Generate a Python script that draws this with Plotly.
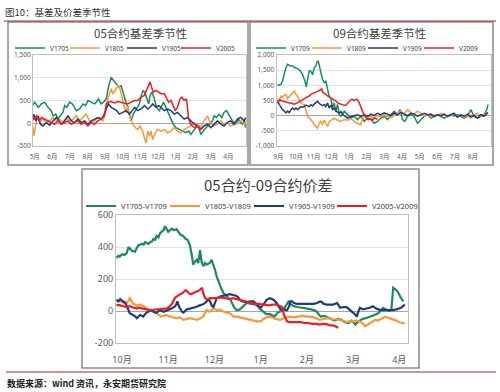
import plotly.graph_objects as go

# ---------------- Panel 1: 05合约基差季节性 (x = months since May 1) ----------------
p1_months = ["5月", "6月", "7月", "8月", "9月", "10月", "11月", "12月", "1月", "2月", "3月", "4月"]
p1_yticks = [-500, 0, 500, 1000, 1500]
p1_ytext = ["-500", "0", "500", "1,000", "1,500"]

p1_v1705_m = [-0.1, 0.0, 0.19, 0.38, 0.57, 0.75, 0.94, 1.04, 1.19, 1.32, 1.45, 1.60, 1.70, 1.83, 1.98, 2.13, 2.26, 2.36,
              2.55, 2.74, 2.89, 3.02, 3.21, 3.40, 3.49, 3.62, 3.77, 3.91, 4.06, 4.21, 4.34, 4.47, 4.62, 4.77, 4.91, 5.00,
              5.15, 5.28, 5.38, 5.47, 5.60, 5.72, 5.85, 5.94, 6.08, 6.17, 6.28, 6.36, 6.47, 6.55, 6.66, 6.79, 6.92, 7.08,
              7.21, 7.32, 7.45, 7.60, 7.74, 7.87, 8.02, 8.21, 8.40, 8.58, 8.74, 8.87, 9.00, 9.15, 9.30, 9.43, 9.57, 9.72,
              9.91, 10.09, 10.19, 10.32, 10.47, 10.62, 10.75, 10.89, 11.04, 11.23, 11.42, 11.57, 11.70, 11.79, 11.89, 11.98]
p1_v1705 = [400, 463, 350, 425, 463, 350, 276, 164, 201, 90, 164, 239, 388, 350, 463, 425, 350, 276,
             313, 425, 388, 500, 463, 425, 463, 537, 425, 463, 537, 836, 1007, 947, 873, 798, 821, 686,
             500, 350, 164, 52, 201, 276, 350, 425, 649, 724, 649, 537, 425, 612, 686, 537, 350, 276,
             388, 463, 350, 201, 90, -22, -97, -134, -172, -209, -172, -246, -172, -97, -60, -246, -172, -97,
             -22, 52, 164, 127, 201, 127, 239, 276, 164, 52, -22, 90, 15, -22, 52, -97]

p1_v1805_m = [-0.12, -0.05, 0.0, 0.09, 0.19, 0.32, 0.47, 0.66, 0.85, 1.04, 1.23, 1.42, 1.60, 1.79, 1.98, 2.17, 2.36,
              2.55, 2.74, 2.92, 3.11, 3.30, 3.49, 3.68, 3.87, 4.02, 4.15, 4.25, 4.34, 4.43, 4.58, 4.72, 4.81, 4.91,
              5.00, 5.09, 5.19, 5.28, 5.38, 5.57, 5.72, 5.85, 5.98, 6.13, 6.23, 6.32, 6.42, 6.51, 6.60, 6.70, 6.85,
              6.98, 7.17, 7.36, 7.55, 7.74, 7.92, 8.11, 8.30, 8.49, 8.68, 8.87, 9.06, 9.25, 9.43, 9.62, 9.81, 10.0,
              10.19, 10.38, 10.57, 10.75, 10.94, 11.13, 11.32, 11.51, 11.70, 11.89, 11.98]
p1_v1805 = [-60, -280, -170, 52, 127, 52, 90, 15, 52, 127, 52, 90, 15, 127, 52, 90, 164,
            52, 127, 201, 52, 15, 90, 127, 52, 239, 537, 686, 761, 649, 724, 836, 798, 649,
            463, 350, 239, 388, 164, -22, -97, -134, -60, -172, -321, -433, -172, -283, -172, -358, -209,
            -134, -172, -134, -209, -172, -97, -172, -209, -134, -97, -60, 15, -22, -97, 52, 164, -22,
            -60, -22, 52, -22, 15, -60, -22, 15, 52, -22, 52]

p1_v1905_m = [-0.1, -0.06, 0.06, 0.19, 0.32, 0.47, 0.66, 0.85, 1.04, 1.23, 1.38, 1.51, 1.70, 1.89, 2.08, 2.26, 2.45,
              2.64, 2.83, 3.02, 3.21, 3.40, 3.58, 3.77, 3.91, 4.06, 4.19, 4.34, 4.53, 4.66, 4.81, 5.00, 5.19, 5.38,
              5.53, 5.68, 5.85, 6.04, 6.23, 6.42, 6.55, 6.70, 6.89, 7.04, 7.17, 7.36, 7.55, 7.74, 7.92, 8.11, 8.30,
              8.49, 8.68, 8.87, 9.06, 9.25, 9.43, 9.62, 9.81, 10.0, 10.19, 10.38, 10.57, 10.75, 10.94, 11.13, 11.32,
              11.51, 11.70, 11.89, 11.98]
p1_v1905 = [127, 201, 52, 164, -22, -60, 15, -45, 52, 127, 52, -22, 52, 164, 52, 15, 90,
            15, 52, -22, 52, 90, 127, 90, 164, 313, 425, 350, 313, 276, 201, 239, 276, 201,
            276, 350, 276, 313, 388, 313, 350, 425, 350, 388, 350, 276, 313, 276, 201, 239, 164,
            90, 127, 52, -22, -60, -134, -60, -22, -97, -22, 52, -22, -60, 15, 52, -22, 90, 127, 52, 127]

p1_v2005_m = [-0.1, -0.06, 0.09, 0.25, 0.38, 0.57, 0.75, 0.94, 1.13, 1.32, 1.51, 1.70, 1.89, 2.08, 2.26, 2.45, 2.64,
              2.83, 3.02, 3.21, 3.40, 3.58, 3.77, 3.96, 4.06, 4.15, 4.34, 4.53, 4.72, 4.91, 5.09, 5.28, 5.47, 5.66,
              5.85, 6.04, 6.23, 6.36, 6.47, 6.55, 6.66, 6.74, 6.89, 7.04, 7.17, 7.36, 7.45, 7.60, 7.74, 7.87, 7.98,
              8.11, 8.25, 8.36, 8.49, 8.62, 8.74, 8.87, 9.06, 9.25, 9.38, 9.53]
p1_v2005 = [127, 90, 164, 52, 127, 90, 52, 15, -22, 52, -22, 15, 52, -22, 15, 52, -22,
            15, -60, 15, -22, 52, 90, 164, 425, 463, 477, 448, 477, 463, 448, 425, 463, 500,
            500, 574, 612, 724, 836, 910, 761, 686, 724, 686, 649, 649, 574, 463, 500, 388, 276,
            350, 537, 574, 500, 537, 90, -22, -97, -60, -134, -97]

# ---------------- Panel 2: 09合约基差季节性 (x = months since Sep 1) ----------------
p2_months = ["9月", "10月", "11月", "12月", "1月", "2月", "3月", "4月", "5月", "6月", "7月", "8月"]
p2_yticks = [-1000, -500, 0, 500, 1000, 1500, 2000]
p2_ytext = ["-1,000", "-500", "0", "500", "1,000", "1,500", "2,000"]

p2_v1709_m = [-0.05, 0.15, 0.24, 0.34, 0.43, 0.53, 0.68, 0.81, 0.94, 1.09, 1.24, 1.37, 1.51, 1.58, 1.66, 1.75, 1.85,
              1.94, 2.03, 2.13, 2.18, 2.26, 2.34, 2.41, 2.50, 2.60, 2.69, 2.79, 2.88, 2.98, 3.07, 3.16, 3.26, 3.35,
              3.45, 3.54, 3.73, 3.92, 4.11, 4.29, 4.48, 4.67, 4.86, 5.05, 5.24, 5.42, 5.61, 5.80, 5.99, 6.18, 6.37,
              6.55, 6.74, 6.89, 7.02, 7.16, 7.31, 7.50, 7.68, 7.87, 8.06, 8.25, 8.44, 8.63, 8.81, 9.00, 9.19, 9.38,
              9.57, 9.76, 9.94, 10.13, 10.32, 10.51, 10.70, 10.89, 11.07, 11.26, 11.45, 11.64, 11.79, 11.86]
p2_v1709 = [1000, 1030, 1140, 1360, 1580, 1690, 1640, 1640, 1580, 1550, 1480, 1360, 1140, 950, 1250, 1480, 1450,
            1350, 1580, 1650, 1750, 1810, 1600, 1420, 1200, 1090, 1130, 865, 645, 560, 255, 420, 145, 370,
            35, -20, 145, 35, -80, -20, -130, -20, -190, -80, -130, -250, -190, -80, -20, -130, 35,
            145, 35, 200, -130, -190, -20, 35, -20, -250, -130, -20, 35, -80, -20, 35, -20, -80,
            -20, 35, -20, 35, -20, -80, -20, 200, -20, -80, -20, 35, 200, 365]

p2_v1809_m = [-0.05, 0.06, 0.15, 0.24, 0.34, 0.43, 0.53, 0.62, 0.72, 0.81, 0.90, 1.0, 1.09, 1.19, 1.28, 1.37, 1.47,
              1.56, 1.66, 1.75, 1.85, 1.94, 2.03, 2.13, 2.22, 2.32, 2.41, 2.50, 2.60, 2.69, 2.79, 2.88, 2.98, 3.07,
              3.16, 3.35, 3.54, 3.73, 3.92, 4.11, 4.29, 4.48, 4.67, 4.76, 4.86, 5.05, 5.24, 5.42, 5.61, 5.80, 5.99,
              6.18, 6.37, 6.55, 6.74, 6.93, 7.12, 7.31, 7.50, 7.68, 7.87, 8.06, 8.25, 8.44, 8.63, 8.81, 9.00, 9.19,
              9.38, 9.57, 9.76, 9.94, 10.13, 10.32, 10.51, 10.70, 10.89, 11.07, 11.26, 11.45, 11.64, 11.79, 11.86]
p2_v1809 = [420, 450, 640, 600, 680, 700, 560, 640, 700, 750, 810, 700, 640, 500, 420, 380, 365,
            150, -20, -80, -130, -200, -300, -350, -410, -250, -190, -300, -150, -250, -355, -200, -150, -120,
            -80, -150, -190, -130, -150, -100, -190, -250, -300, -80, 30, -50, -20, -80, 0, -50, 30,
            -20, -70, 0, 80, 150, 50, 200, 100, 30, 150, 80, -20, 30, -50, 30, 0, 80,
            30, -50, 0, 50, -20, 30, -50, 0, -80, 30, 80, -20, 30, 100, 120]

p2_v1909_m = [-0.05, 0.06, 0.15, 0.24, 0.34, 0.43, 0.53, 0.62, 0.72, 0.81, 0.90, 1.0, 1.09, 1.19, 1.28, 1.37, 1.47,
              1.56, 1.66, 1.75, 1.85, 1.94, 2.03, 2.13, 2.22, 2.32, 2.41, 2.50, 2.60, 2.69, 2.79, 2.88, 2.98, 3.07,
              3.16, 3.26, 3.35, 3.45, 3.54, 3.64, 3.73, 3.83, 3.92, 4.11, 4.29, 4.48, 4.67, 4.86, 5.05, 5.24, 5.42,
              5.61, 5.80, 5.99, 6.18, 6.37, 6.55, 6.74, 6.93, 7.12, 7.31, 7.50, 7.68, 7.87, 8.06, 8.25, 8.44, 8.63,
              8.81, 9.00, 9.19, 9.38, 9.57, 9.76, 9.94, 10.13, 10.32, 10.51, 10.70, 10.89, 11.07, 11.26, 11.45, 11.64,
              11.79, 11.86]
p2_v1909 = [470, 350, 250, 200, 150, 90, 150, 100, 200, 250, 200, 250, 200, 250, 300, 280, 300,
            350, 320, 300, 360, 320, 380, 420, 470, 400, 360, 330, 370, 300, 420, 250, 350, 200,
            250, 150, 120, 80, 140, 40, 0, -30, -80, -30, 0, 30, -20, 35, -20, 50, 0,
            80, 30, 90, 50, 0, 80, 30, 100, 50, 0, 80, 50, -20, 30, 80, 30, 50,
            -30, 30, 0, 50, -20, 30, 80, -50, 30, -20, 50, -30, 0, -80, 30, -20,
            50, 100]

p2_v2009_m = [-0.05, 0.06, 0.15, 0.24, 0.34, 0.43, 0.53, 0.62, 0.72, 0.81, 0.90, 1.0, 1.09, 1.19, 1.28, 1.37, 1.47,
              1.56, 1.66, 1.75, 1.85, 1.94, 2.03, 2.13, 2.22, 2.32, 2.41, 2.46, 2.50, 2.60, 2.69, 2.79, 2.88, 2.98,
              3.07, 3.16, 3.26, 3.35, 3.45, 3.54, 3.64, 3.73, 3.83, 3.92, 4.02, 4.11, 4.20, 4.29, 4.39, 4.48, 4.58,
              4.67, 4.76, 4.86, 4.95, 5.05, 5.15, 5.24, 5.33, 5.42, 5.52, 5.61]
p2_v2009 = [480, 530, 500, 480, 470, 450, 440, 420, 420, 400, 380, 400, 430, 450, 470, 500, 530,
            560, 600, 650, 700, 720, 750, 780, 800, 830, 880, 880, 780, 720, 700, 650, 620, 600,
            560, 530, 480, 420, 400, 380, 360, 340, 350, 420, 480, 530, 540, 500, 540, 530, 420,
            310, 150, 20, -50, -130, -130, -100, -150, -80, -100, -120]

# ---------------- Panel 3: 05合约-09合约价差 (x = months since Oct 1) ----------------
p3_months = ["10月", "11月", "12月", "1月", "2月", "3月", "4月"]
p3_yticks = [-200, 0, 200, 400, 600]
p3_ytext = ["-200", "0", "200", "400", "600"]

p3_g_m = [-0.12, -0.08, -0.05, 0.0, 0.05, 0.1, 0.14, 0.18, 0.22, 0.28, 0.32, 0.35, 0.4, 0.43, 0.47, 0.5, 0.54, 0.57,
          0.61, 0.65, 0.68, 0.72, 0.75, 0.79, 0.82, 0.86, 0.9, 0.93, 0.97, 1.0, 1.04, 1.08, 1.12, 1.18, 1.22, 1.27,
          1.32, 1.38, 1.42, 1.47, 1.51, 1.54, 1.58, 1.62, 1.65, 1.69, 1.72, 1.76, 1.8, 1.83, 1.87, 1.9, 1.94, 1.98,
          2.02, 2.05, 2.1, 2.15, 2.2, 2.27, 2.35, 2.42, 2.48, 2.55, 2.62, 2.7, 2.8, 2.9, 3.0, 3.07, 3.12, 3.2, 3.3,
          3.37, 3.45, 3.52, 3.6, 3.66, 3.72, 3.8, 3.9, 4.0, 4.1, 4.2, 4.3, 4.38, 4.45, 4.52, 4.6, 4.68, 4.75, 4.82,
          4.9, 4.97, 5.05, 5.1, 5.15, 5.2, 5.28, 5.35, 5.42, 5.5, 5.56, 5.6, 5.65, 5.72, 5.78, 5.83, 5.87, 5.92,
          5.97, 6.02, 6.06, 6.09]
p3_g = [330, 345, 340, 355, 350, 360, 400, 390, 375, 370, 390, 410, 415, 420, 415, 430, 425, 420,
        430, 435, 450, 445, 470, 460, 485, 495, 505, 530, 510, 495, 505, 515, 505, 512, 495, 475,
        470, 450, 445, 410, 350, 290, 310, 320, 300, 380, 310, 280, 300, 290, 295, 300, 320, 290,
        250, 215, 170, 140, 110, 90, 70, 25, 5, 10, 30, 50, 45, 40, 10, -5, -20, -20, -35,
        -10, 0, 20, 58, 40, 30, 25, 20, 15, 10, 0, -35, -30, -40, -45, -60, -50, -55, -70,
        -75, -60, -85, -70, -60, -50, -45, -35, -30, -20, -10, 5, 20, 10, 0, 10, 145, 135,
        120, 90, 70, 60]

p3_o_m = [-0.12, -0.08, -0.04, 0.0, 0.05, 0.1, 0.14, 0.17, 0.21, 0.25, 0.29, 0.33, 0.38, 0.42, 0.46, 0.5, 0.53, 0.58,
          0.64, 0.7, 0.75, 0.8, 0.84, 0.9, 0.95, 1.0, 1.04, 1.1, 1.18, 1.25, 1.33, 1.4, 1.47, 1.55, 1.62, 1.7, 1.76,
          1.8, 1.83, 1.9, 1.94, 1.98, 2.05, 2.12, 2.2, 2.28, 2.34, 2.41, 2.48, 2.55, 2.62, 2.7, 2.78, 2.85, 2.92,
          3.0, 3.06, 3.13, 3.2, 3.28, 3.35, 3.42, 3.5, 3.57, 3.64, 3.72, 3.8, 3.9, 4.0, 4.07, 4.15, 4.22, 4.28,
          4.36, 4.45, 4.55, 4.65, 4.72, 4.8, 4.86, 4.94, 5.0, 5.08, 5.15, 5.22, 5.26, 5.32, 5.37, 5.43, 5.48, 5.53,
          5.58, 5.64, 5.69, 5.74, 5.8, 5.87, 5.94, 6.0, 6.05, 6.1, 6.12]
p3_o = [70, 60, 65, 55, 60, 50, 65, 80, 60, 45, 40, 30, 40, 35, 35, 25, 15, 10,
        5, -5, -15, -25, -35, -30, -25, -30, -35, -40, -45, -40, -55, -50, -45, -50, -55, -45, -35,
        -10, 5, -5, 5, 15, 5, 10, -5, -10, -15, -35, -35, -40, -45, -50, -55, -60, -65,
        -65, -50, -40, -35, -45, -50, -55, -45, -40, -35, -40, -35, -30, -35, -35, -40, -50, -55,
        -50, -45, -50, -55, -55, -65, -68, -65, -65, -60, -65, -80, -95, -85, -75, -65, -55, -60,
        -55, -45, -35, -40, -45, -50, -60, -70, -75, -80, -78]

p3_n_m = [-0.12, -0.08, -0.04, 0.0, 0.04, 0.08, 0.12, 0.17, 0.21, 0.25, 0.29, 0.32, 0.36, 0.39, 0.43, 0.46, 0.5,
          0.53, 0.57, 0.61, 0.65, 0.68, 0.72, 0.75, 0.79, 0.82, 0.86, 0.9, 0.94, 0.97, 1.02, 1.07, 1.1, 1.15, 1.18,
          1.2, 1.23, 1.26, 1.3, 1.33, 1.37, 1.4, 1.47, 1.54, 1.6, 1.68, 1.74, 1.8, 1.84, 1.88, 1.92, 1.95, 1.98,
          2.02, 2.05, 2.12, 2.19, 2.26, 2.33, 2.4, 2.47, 2.52, 2.55, 2.6, 2.7, 2.78, 2.85, 2.92, 3.0, 3.06, 3.13,
          3.2, 3.28, 3.35, 3.4, 3.43, 3.5, 3.57, 3.62, 3.64, 3.68, 3.72, 3.79, 3.86, 3.93, 4.0, 4.08, 4.15, 4.22,
          4.29, 4.33, 4.36, 4.43, 4.5, 4.57, 4.62, 4.65, 4.68, 4.72, 4.79, 4.86, 4.9, 4.94, 5.0, 5.04, 5.08, 5.12,
          5.15, 5.22, 5.29, 5.36, 5.43, 5.47, 5.5, 5.55, 5.6, 5.68, 5.72, 5.8, 5.86, 5.94, 6.0, 6.04, 6.08, 6.12]
p3_n = [70, 60, 75, 65, 60, 45, 20, -15, -20, -25, -35, -45, -30, -25, -30, -35, -20,
        -10, -5, 5, 0, -5, -10, -10, 0, 5, 0, -5, 0, 5, 10, 15, 20, 30, 45,
        60, 30, 10, -5, -10, 0, 10, 15, 20, 25, 35, 40, 50, 60, 75, 50, 30, 25,
        60, 80, 90, 95, 100, 105, 100, 95, 85, 70, 60, 55, 60, 60, 40, 20, 40, 70,
        80, 70, 50, 30, 10, 10, 5, 30, 60, 60, 50, 45, 45, 45, 45, 45, 45, 50,
        60, 55, 45, 40, 38, 40, 45, 50, 40, 20, 25, 24, 15, 3, -10, -20, -35, 0,
        20, 10, 15, 20, 30, 20, 15, 10, 5, 5, 5, 5, 5, 10, 15, 20, 30, 40]

p3_r_m = [-0.12, -0.08, -0.04, 0.0, 0.05, 0.1, 0.14, 0.17, 0.21, 0.25, 0.29, 0.32, 0.36, 0.4, 0.44, 0.47, 0.53, 0.6,
          0.68, 0.75, 0.82, 0.9, 0.95, 1.0, 1.04, 1.08, 1.11, 1.14, 1.18, 1.22, 1.26, 1.3, 1.34, 1.38, 1.42, 1.45,
          1.49, 1.52, 1.56, 1.6, 1.64, 1.68, 1.71, 1.73, 1.76, 1.8, 1.84, 1.88, 1.92, 1.95, 2.0, 2.05, 2.12, 2.2,
          2.27, 2.33, 2.4, 2.47, 2.52, 2.58, 2.65, 2.72, 2.8, 2.88, 2.95, 3.02, 3.1, 3.18, 3.25, 3.32, 3.38, 3.43,
          3.47, 3.5, 3.53, 3.57, 3.62, 3.7, 3.78, 3.86, 3.95, 4.03, 4.12, 4.2, 4.28, 4.35, 4.42, 4.5, 4.56, 4.62,
          4.68]
p3_r = [35, 38, 35, 30, 28, 25, 30, 30, 25, 20, 18, 15, 20, 20, 15, 15, 10, 5,
        8, 10, 12, 10, 15, 20, 30, 45, 60, 80, 90, 100, 105, 110, 120, 130, 120, 110,
        105, 110, 115, 120, 125, 130, 140, 145, 110, 80, 75, 75, 80, 80, 82, 80, 85, 80,
        78, 75, 80, 75, 70, 65, 60, 55, 50, 45, 45, 40, 38, 35, 40, 42, 35, 30,
        25, -20, -45, -65, -70, -70, -72, -70, -75, -75, -80, -80, -85, -80, -82, -90, -90, -95,
        -105]

GREEN = "#1c8a5b"
ORANGE = "#f6983b"
NAVY = "#1f3c7c"
RED = "#ee1d24"
FONT = "Noto Sans, Noto Sans CJK SC, sans-serif"
CJK = "Noto Sans CJK SC, sans-serif"

W, H = 500, 392


def px(x):
    return x / W


def py(y):
    return 1 - y / H


fig = go.Figure()

# (x, y, name, colour, xaxis, yaxis, line width, legend text start px, legend row px, legend font)
series = [
    (p1_v1705_m, p1_v1705, "V1705", GREEN, "x", "y", 1.5, 50, 48, 6.5),
    (p1_v1805_m, p1_v1805, "V1805", ORANGE, "x", "y", 1.5, 105, 48, 6.5),
    (p1_v1905_m, p1_v1905, "V1905", NAVY, "x", "y", 1.5, 162, 48, 6.5),
    (p1_v2005_m, p1_v2005, "V2005", RED, "x", "y", 1.5, 216, 48, 6.5),
    (p2_v1709_m, p2_v1709, "V1709", GREEN, "x2", "y2", 1.5, 291, 48, 6.5),
    (p2_v1809_m, p2_v1809, "V1809", ORANGE, "x2", "y2", 1.5, 347, 48, 6.5),
    (p2_v1909_m, p2_v1909, "V1909", NAVY, "x2", "y2", 1.5, 403, 48, 6.5),
    (p2_v2009_m, p2_v2009, "V2009", RED, "x2", "y2", 1.5, 459, 48, 6.5),
    (p3_g_m, p3_g, "V1705-V1709", GREEN, "x3", "y3", 2.2, 121, 206, 7.5),
    (p3_o_m, p3_o, "V1805-V1809", ORANGE, "x3", "y3", 2.2, 205, 206, 7.5),
    (p3_n_m, p3_n, "V1905-V1909", NAVY, "x3", "y3", 2.2, 289, 206, 7.5),
    (p3_r_m, p3_r, "V2005-V2009", RED, "x3", "y3", 2.2, 372, 206, 7.5),
]

legends = {}
for i, (xs, ys, name, color, xa, ya, lw, tx, ty, fs) in enumerate(series):
    key = "legend" if i == 0 else "legend%d" % (i + 1)
    fig.add_trace(go.Scatter(x=xs, y=ys, mode="lines", name=name,
                             line=dict(color=color, width=lw),
                             xaxis=xa, yaxis=ya, legend=key, hoverinfo="skip"))
    legends[key] = dict(orientation="h", x=px(tx - 40), y=py(ty), xanchor="left", yanchor="middle",
                        font=dict(family=FONT, size=fs, color="#404040"), borderwidth=0,
                        bgcolor="rgba(0,0,0,0)", itemclick=False, itemdoubleclick=False)


def xaxis(domain, rng, labels, anchor, size, standoff):
    return dict(domain=domain, range=rng, anchor=anchor, automargin=False,
                tickmode="array", tickvals=list(range(len(labels))), ticktext=labels,
                showgrid=False, zeroline=False, showline=True, mirror=True,
                linecolor="#bfbfbf", linewidth=1, ticks="", ticklabelstandoff=standoff,
                tickfont=dict(family=FONT, size=size, color="#595959"), fixedrange=True)


def yaxis(domain, rng, vals, text, anchor, size):
    return dict(domain=domain, range=rng, anchor=anchor, automargin=False,
                tickmode="array", tickvals=vals, ticktext=text,
                showgrid=True, gridcolor="#d9d9d9", gridwidth=0.8,
                zeroline=True, zerolinecolor="#a6a6a6", zerolinewidth=1,
                showline=True, mirror=True, linecolor="#bfbfbf", linewidth=1, ticks="",
                tickfont=dict(family=FONT, size=size, color="#595959"), fixedrange=True)


top_dom = [py(146), py(55)]
fig.update_layout(
    width=W, height=H, margin=dict(l=0, r=0, t=0, b=0, autoexpand=False),
    paper_bgcolor="white", plot_bgcolor="white", showlegend=True,
    xaxis=xaxis([px(33), px(246)], [-0.1, 12.0], p1_months, "y", 6.5, 4),
    yaxis=yaxis(top_dom, [-500, 1500], p1_yticks, p1_ytext, "x", 6.5),
    xaxis2=xaxis([px(276.5), px(490.5)], [-0.1, 12.0], p2_months, "y2", 6.5, 4),
    yaxis2=yaxis(top_dom, [-1000, 2000], p2_yticks, p2_ytext, "x2", 6.5),
    xaxis3=xaxis([px(116), px(408)], [-0.13, 6.19], p3_months, "y3", 9, 8),
    yaxis3=yaxis([py(343), py(215)], [-200, 600], p3_yticks, p3_ytext, "x3", 9),
    **legends,
)

# panel frames and page rules
frame = dict(type="rect", xref="paper", yref="paper", line=dict(color="#8c8c8c", width=1.5), layer="below")
fig.add_shape(x0=px(8), x1=px(248), y0=py(165), y1=py(22), **frame)
fig.add_shape(x0=px(250), x1=px(493), y0=py(165), y1=py(22), **frame)
fig.add_shape(x0=px(82), x1=px(419), y0=py(368), y1=py(169), **frame)
rule = dict(type="line", xref="paper", yref="paper", line=dict(color="#9e2a2f", width=1))
fig.add_shape(x0=px(4), x1=px(496), y0=py(21), y1=py(21), **rule)
fig.add_shape(x0=px(6), x1=px(496), y0=py(372), y1=py(372), **rule)

ann = dict(xref="paper", yref="paper", showarrow=False)
fig.add_annotation(x=px(3), y=py(12), text="图10：基差及价差季节性", xanchor="left", yanchor="middle",
                   font=dict(family=CJK, size=9.5, color="#333333"), **ann)
fig.add_annotation(x=px(5), y=py(383), text="<b>数据来源：wind 资讯，永安期货研究院</b>", xanchor="left",
                   yanchor="middle", font=dict(family=CJK, size=9, color="#222222"), **ann)
fig.add_annotation(x=px(140), y=py(33), text="05合约基差季节性", xanchor="center", yanchor="middle",
                   font=dict(family=CJK, size=11.5, color="#404040"), **ann)
fig.add_annotation(x=px(379), y=py(33), text="09合约基差季节性", xanchor="center", yanchor="middle",
                   font=dict(family=CJK, size=11.5, color="#404040"), **ann)
fig.add_annotation(x=px(268), y=py(185), text="05合约-09合约价差", xanchor="center", yanchor="middle",
                   font=dict(family=CJK, size=15, color="#404040"), **ann)

fig.write_html("out.html", config={"displayModeBar": False, "staticPlot": True},
               post_script="document.body.style.margin='0';document.body.style.padding='0';")
